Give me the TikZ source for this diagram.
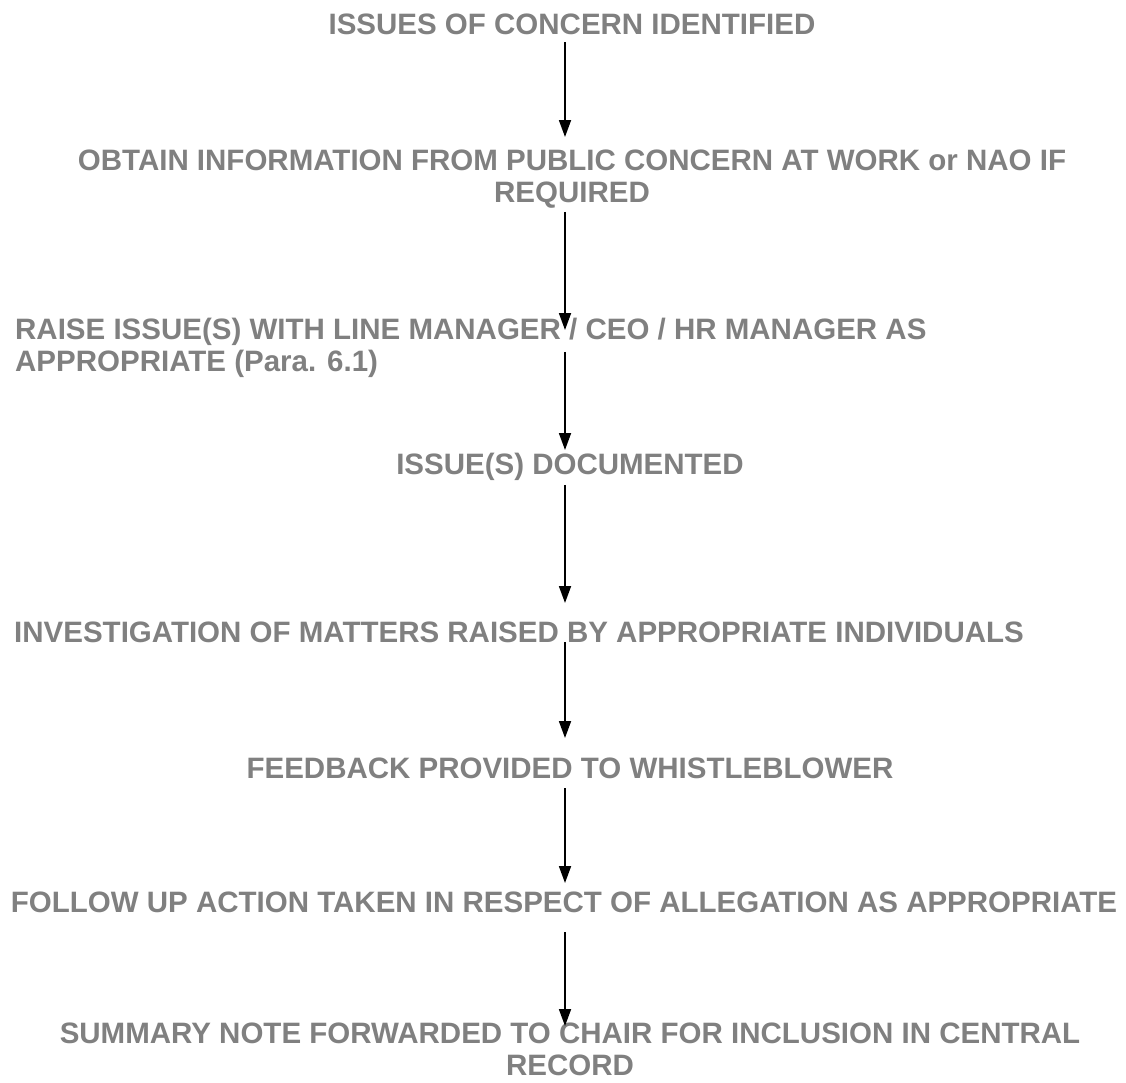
\documentclass[tikz,border=0pt]{standalone}
\usepackage{fontspec}
\setmainfont{Liberation Sans}
\usetikzlibrary{arrows.meta}
\definecolor{stagegray}{RGB}{128,128,128}
\tikzstyle{stage} = [text=stagegray, font={\fontsize{29.5}{32}\selectfont\bfseries}, inner sep=0pt]
\tikzstyle{flow} = [draw=black, line width=1.8pt, -{Triangle[length=17pt,width=12pt]}]

\begin{document}
\begin{tikzpicture}[x=1pt,y=-1pt]
  \useasboundingbox (0,0) rectangle (1126,1082);
  \coordinate (axis) at (565,0);
  \node[stage,anchor=north](0) at (572,14){ISSUES OF CONCERN IDENTIFIED};
  \node[stage,anchor=north,align=center](1) at (572,150){OBTAIN INFORMATION FROM PUBLIC CONCERN AT WORK or NAO IF\\REQUIRED};
  \node[stage,anchor=north west,align=left](2) at (15,318){RAISE ISSUE(S) WITH LINE MANAGER / CEO / HR MANAGER AS\\APPROPRIATE (Para. 6.1)};
  \node[stage,anchor=north](3) at (570,453){ISSUE(S) DOCUMENTED};
  \node[stage,anchor=north west](4) at (14,622){INVESTIGATION OF MATTERS RAISED BY APPROPRIATE INDIVIDUALS};
  \node[stage,anchor=north](5) at (570,758){FEEDBACK PROVIDED TO WHISTLEBLOWER};
  \node[stage,anchor=north](6) at (564,892){FOLLOW UP ACTION TAKEN IN RESPECT OF ALLEGATION AS APPROPRIATE};
  \node[stage,anchor=north,align=center](7) at (570,1023){SUMMARY NOTE FORWARDED TO CHAIR FOR INCLUSION IN CENTRAL\\RECORD};
  \draw[flow,shorten <=7pt,shorten >=13pt](0.south -| axis)--(1.north -| axis);
  \draw[flow,shorten <=3pt,shorten >=-12pt](1.south -| axis)--(2.north -| axis);
  \draw[flow,shorten <=-26pt,shorten >=3pt](2.south -| axis)--(3.north -| axis);
  \draw[flow,shorten <=4pt,shorten >=19pt](3.south -| axis)--(4.north -| axis);
  \draw[flow,shorten <=-1pt,shorten >=20pt](4.south -| axis)--(5.north -| axis);
  \draw[flow,shorten <=9pt,shorten >=9pt](5.south -| axis)--(6.north -| axis);
  \draw[flow,shorten <=19pt,shorten >=-3pt](6.south -| axis)--(7.north -| axis);
\end{tikzpicture}
\end{document}
